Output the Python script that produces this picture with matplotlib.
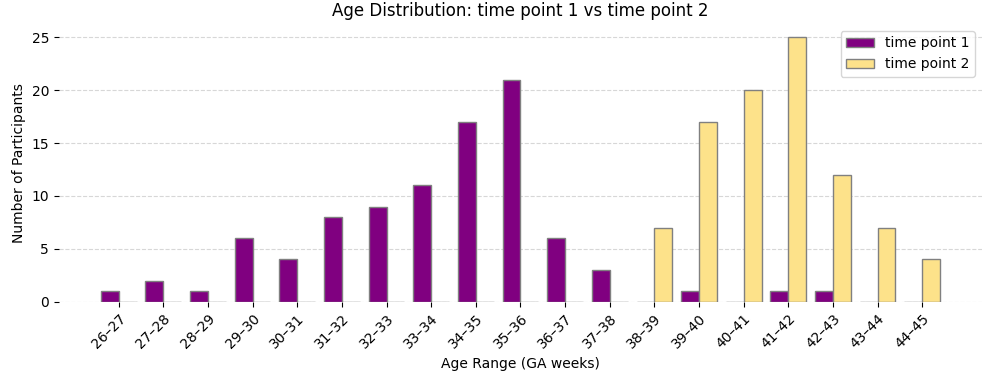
import numpy as np
from matplotlib import pyplot as plt

age_ranges = ["26–27", "27–28", "28–29", "29–30", "30–31", "31–32", "32–33",
              "33–34", "34–35", "35–36", "36–37", "37–38", "38–39", "39–40",
              "40–41", "41–42", "42–43", "43–44", "44–45"]
time_point_1 = [1, 2, 1, 6, 4, 8, 9, 11, 17, 21, 6, 3, 0, 1, 0, 1, 1, 0, 0]
time_point_2 = [0, 0, 0, 0, 0, 0, 0, 0, 0, 0, 0, 0, 7, 17, 20, 25, 12, 7, 4]

x = np.arange(len(age_ranges))
width = 0.4

fig, ax = plt.subplots(figsize=(9.97, 3.74), dpi=100)
ax.bar(x - width, time_point_1, width, align='edge', color='#800080',
       edgecolor='gray', linewidth=1, label='time point 1')
ax.bar(x, time_point_2, width, align='edge', color='#fde28a',
       edgecolor='gray', linewidth=1, label='time point 2')

ax.set_xticks(x)
ax.set_xticklabels(age_ranges, rotation=45, ha='right', rotation_mode='anchor')
ax.set_xlabel("Age Range (GA weeks)")
ax.set_ylabel("Number of Participants")
ax.set_title("Age Distribution: time point 1 vs time point 2")
ax.grid(axis='y', linestyle='--', alpha=0.5)
ax.set_axisbelow(True)
for s in ax.spines.values():
    s.set_visible(False)
ax.legend(loc='upper right')

fig.subplots_adjust(left=0.059, right=0.985, top=0.936, bottom=0.193)
plt.savefig('out.png')
